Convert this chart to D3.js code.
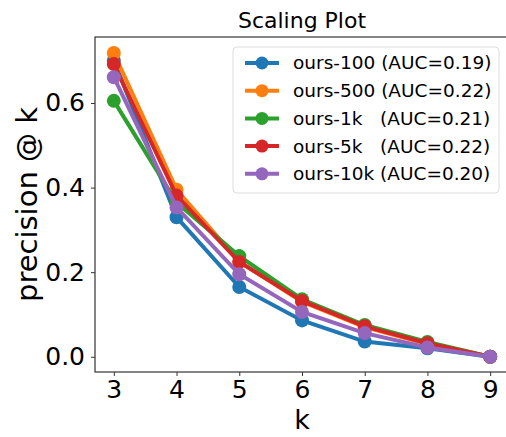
<!DOCTYPE html>
<html>
<head>
<meta charset="utf-8">
<script src="https://cdn.jsdelivr.net/npm/d3@7"></script>
<style>
  body { margin: 0; background: #fff; }
  text { font-family: "DejaVu Sans", sans-serif; fill: #000; }
</style>
</head>
<body>
<svg id="chart" width="506" height="437"></svg>
<script>
// data
var ks = [3, 4, 5, 6, 7, 8, 9];
var seriesNames = ["ours-100 (AUC=0.19)", "ours-500 (AUC=0.22)", "ours-1k   (AUC=0.21)",
                   "ours-5k   (AUC=0.22)", "ours-10k (AUC=0.20)"];
var colors = ["#1f77b4", "#ff7f0e", "#2ca02c", "#d62728", "#9467bd"];
var ours100 = [0.700, 0.330, 0.165, 0.086, 0.036, 0.020, 0.0];
var ours500 = [0.718, 0.395, 0.225, 0.130, 0.070, 0.030, 0.0];
var ours1k  = [0.605, 0.365, 0.238, 0.136, 0.075, 0.035, 0.0];
var ours5k  = [0.692, 0.381, 0.224, 0.132, 0.072, 0.032, 0.0];
var ours10k = [0.661, 0.353, 0.195, 0.106, 0.056, 0.022, 0.0];
var yTicks = [0.0, 0.2, 0.4, 0.6];

var allSeries = [ours100, ours500, ours1k, ours5k, ours10k];

var svg = d3.select("#chart"),
    margin = {top: 37, right: -3, bottom: 65, left: 95},
    width = +svg.attr("width") - margin.left - margin.right,
    height = +svg.attr("height") - margin.top - margin.bottom,
    g = svg.append("g").attr("transform", "translate(" + margin.left + "," + margin.top + ")");

var x = d3.scaleLinear().domain([2.7, 9.3]).range([0, width]);
var y = d3.scaleLinear().domain([-0.036, 0.756]).range([height, 0]);

var xAxis = g.append("g")
    .attr("transform", "translate(0," + height + ")")
    .call(d3.axisBottom(x).tickValues(ks).tickFormat(d3.format("d")).tickSize(4).tickPadding(4));
var yAxis = g.append("g")
    .call(d3.axisLeft(y).tickValues(yTicks).tickFormat(d3.format(".1f")).tickSize(4).tickPadding(6));

[xAxis, yAxis].forEach(function(a) {
  a.select(".domain").remove();
  a.selectAll("line").attr("stroke", "#333").attr("stroke-width", 1);
  a.selectAll("text").style("font-size", "25px").attr("fill", "#000");
});

var line = d3.line().x(function(d, i) { return x(ks[i]); }).y(function(d) { return y(d); });

allSeries.forEach(function(s, si) {
  var sg = g.append("g");
  sg.append("path")
      .datum(s)
      .attr("d", line)
      .attr("fill", "none")
      .attr("stroke", colors[si])
      .attr("stroke-width", 4);
  sg.selectAll("circle")
      .data(s)
      .enter().append("circle")
      .attr("cx", function(d, i) { return x(ks[i]); })
      .attr("cy", function(d) { return y(d); })
      .attr("r", 7)
      .attr("fill", colors[si]);
});

// frame
g.append("rect")
    .attr("width", width)
    .attr("height", height)
    .attr("fill", "none")
    .attr("stroke", "#333")
    .attr("stroke-width", 1.2);

// legend
var legend = svg.append("g").attr("transform", "translate(233,47)");
legend.append("rect")
    .attr("width", 266)
    .attr("height", 146)
    .attr("rx", 4)
    .attr("fill", "#fff")
    .attr("fill-opacity", 0.8)
    .attr("stroke", "#ddd");
var items = legend.selectAll(".item")
    .data(seriesNames)
    .enter().append("g")
    .attr("class", "item")
    .attr("transform", function(d, i) { return "translate(0," + (16 + i * 27.7) + ")"; });
items.append("line")
    .attr("x1", 12).attr("x2", 46)
    .attr("stroke", function(d, i) { return colors[i]; })
    .attr("stroke-width", 4);
items.append("circle")
    .attr("cx", 29)
    .attr("r", 6.5)
    .attr("fill", function(d, i) { return colors[i]; });
items.append("text")
    .attr("x", 60)
    .attr("dy", "0.35em")
    .style("font-size", "18.5px")
    .style("white-space", "pre")
    .text(function(d) { return d; });

// title and axis labels
svg.append("text")
    .attr("x", margin.left + width / 2)
    .attr("y", 28)
    .attr("text-anchor", "middle")
    .style("font-size", "22px")
    .text("Scaling Plot");

svg.append("text")
    .attr("x", margin.left + width / 2)
    .attr("y", 429)
    .attr("text-anchor", "middle")
    .style("font-size", "27px")
    .text("k");

svg.append("text")
    .attr("transform", "translate(37," + (margin.top + height / 2) + ") rotate(-90)")
    .attr("text-anchor", "middle")
    .style("font-size", "29px")
    .text("precision @ k");
</script>
</body>
</html>
